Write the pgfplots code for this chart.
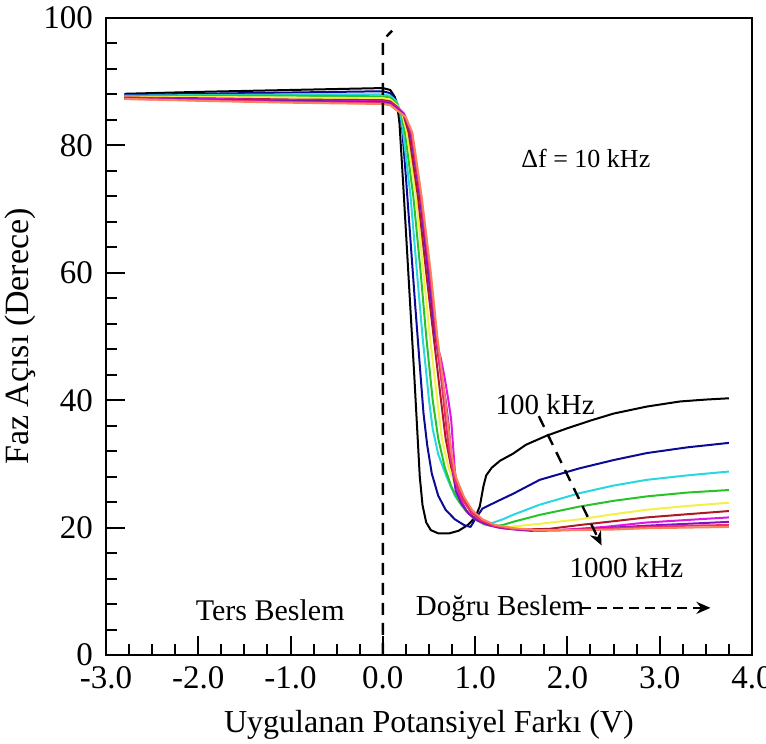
\documentclass[border=0pt]{standalone}
\usepackage{fontspec}
\setmainfont{Liberation Serif}
\usepackage{pgfplots}
\pgfplotsset{compat=1.18}
\usetikzlibrary{calc,arrows.meta}

\definecolor{c1}{RGB}{0,0,0}
\definecolor{c2}{RGB}{10,10,150}
\definecolor{c3}{RGB}{40,215,225}
\definecolor{c4}{RGB}{40,195,40}
\definecolor{c5}{RGB}{245,240,70}
\definecolor{c6}{RGB}{175,25,35}
\definecolor{c7}{RGB}{225,20,225}
\definecolor{c8}{RGB}{125,20,190}
\definecolor{c9}{RGB}{240,40,120}
\definecolor{c10}{RGB}{250,130,90}

\begin{document}
\begin{tikzpicture}
\begin{axis}[
    name=ax,
    scale only axis,
    width=323pt, height=318.5pt,
    xmin=-3, xmax=4, ymin=0, ymax=100,
    axis line style={line width=1.2pt},
    tick align=inside,
    xtick pos=bottom, ytick pos=left,
    xtick={-3,-2,...,4},
    xticklabels={-3.0,-2.0,-1.0,0.0,1.0,2.0,3.0,4.0},
    ytick={0,20,...,100},
    yticklabels={0,20,40,60,80,100},
    minor x tick num=3,
    minor y tick num=4,
    major tick length=9.5pt, minor tick length=5.5pt,
    every tick/.style={line width=1pt, black},
    tick label style={font=\fontsize{16.5}{18}\selectfont},
    xticklabel style={yshift=-2pt},
    yticklabel style={xshift=-3pt},
    xlabel={Uygulanan Potansiyel Farkı (V)},
    ylabel={Faz Açısı (Derece)},
    xlabel style={font=\fontsize{16}{18}\selectfont, yshift=-4pt},
    ylabel style={font=\fontsize{17}{19}\selectfont, yshift=-3pt},
    every axis plot/.append style={line width=1pt, line join=round},
]
% 100 kHz
\addplot[c1] coordinates {(-2.8,88.1) (-2.0,88.4) (-1.0,88.7) (0.0,89.0) (0.08,88.7) (0.13,87.6) (0.16,85.8) (0.18,83.5) (0.22,74) (0.26,64) (0.3,54) (0.34,44) (0.37,36) (0.40,28) (0.43,23.5) (0.47,20.8) (0.52,19.6) (0.6,19.1) (0.72,19.1) (0.82,19.5) (0.92,20.4) (1.0,21.6) (1.05,23.3) (1.09,26.5) (1.12,28.2) (1.18,29.4) (1.27,30.5) (1.41,31.6) (1.55,33.0) (1.77,34.4) (2.0,35.6) (2.25,36.8) (2.5,37.9) (2.86,39.0) (3.22,39.8) (3.5,40.1) (3.75,40.3)};
% 200 kHz
\addplot[c2] coordinates {(-2.8,87.9) (-2.0,88.1) (-1.0,88.3) (0.0,88.5) (0.08,88.2) (0.14,87.2) (0.18,85.5) (0.21,82.5) (0.25,75) (0.3,65) (0.35,55) (0.4,45.5) (0.44,38) (0.48,33) (0.53,28.5) (0.6,25) (0.68,22.8) (0.78,21.3) (0.88,20.4) (0.95,20.1) (1.0,21.3) (1.08,23.0) (1.25,24.2) (1.41,25.3) (1.7,27.5) (2.13,29.3) (2.5,30.6) (2.86,31.7) (3.3,32.6) (3.75,33.3)};
% 300 kHz
\addplot[c3] coordinates {(-2.8,87.8) (-2.0,87.9) (-1.0,88.0) (0.0,88.0) (0.08,87.8) (0.15,86.9) (0.19,85.0) (0.22,82) (0.3,72) (0.37,60) (0.43,50) (0.5,40) (0.54,35.5) (0.6,31.5) (0.69,28) (0.78,25) (0.87,23.2) (0.95,22) (1.03,21.1) (1.1,20.7) (1.18,20.7) (1.3,21.3) (1.41,22.0) (1.7,23.6) (2.13,25.4) (2.5,26.6) (2.86,27.5) (3.3,28.2) (3.75,28.8)};
% 400 kHz
\addplot[c4] coordinates {(-2.8,87.7) (-2.0,87.8) (-1.0,87.8) (0.0,87.7) (0.08,87.5) (0.15,86.6) (0.2,85) (0.24,82) (0.33,72) (0.41,60) (0.47,50) (0.54,40) (0.6,34) (0.67,29.5) (0.74,26.5) (0.82,24.2) (0.9,22.6) (1.0,21.3) (1.1,20.5) (1.2,20.2) (1.3,20.4) (1.41,20.9) (1.7,22.0) (2.13,23.3) (2.5,24.2) (2.86,24.9) (3.3,25.5) (3.75,25.9)};
% 500 kHz
\addplot[c5] coordinates {(-2.8,87.6) (-2.0,87.6) (-1.0,87.5) (0.0,87.4) (0.08,87.2) (0.16,86.2) (0.21,85) (0.26,82) (0.36,72) (0.44,60) (0.51,50) (0.59,40) (0.64,34) (0.71,29.5) (0.8,26.2) (0.88,24) (0.97,22.3) (1.07,21.0) (1.2,20.3) (1.35,20.1) (1.5,20.3) (1.7,20.6) (2.13,21.3) (2.5,22.1) (2.86,22.8) (3.3,23.4) (3.75,23.9)};
% 600 kHz
\addplot[c6] coordinates {(-2.8,87.5) (-2.0,87.4) (-1.0,87.2) (0.0,87.1) (0.08,86.9) (0.16,86.0) (0.22,85) (0.28,82) (0.38,72) (0.47,60) (0.55,50) (0.63,40) (0.68,34) (0.74,29.5) (0.82,26) (0.9,23.8) (1.0,22.0) (1.12,20.8) (1.3,20.0) (1.5,19.7) (1.8,19.8) (2.13,20.4) (2.5,21.0) (2.86,21.6) (3.3,22.1) (3.75,22.6)};
% 700 kHz
\addplot[c7] coordinates {(-2.8,87.5) (-2.0,87.3) (-1.0,87.1) (0.0,86.9) (0.08,86.7) (0.17,85.8) (0.23,85) (0.3,82) (0.41,72) (0.5,60) (0.56,52) (0.6,48) (0.63,46.5) (0.67,43.5) (0.71,40) (0.74,37) (0.76,33) (0.78,29) (0.8,26.5) (0.84,24.5) (0.91,22.5) (1.0,21.3) (1.12,20.5) (1.25,20.0) (1.5,19.6) (1.9,19.6) (2.4,20.1) (2.86,20.8) (3.3,21.2) (3.75,21.6)};
% 800 kHz
\addplot[c8] coordinates {(-2.8,87.4) (-2.0,87.2) (-1.0,87.0) (0.0,86.8) (0.08,86.6) (0.17,85.6) (0.23,84.8) (0.3,82) (0.4,72) (0.49,60) (0.56,51) (0.63,44) (0.68,40) (0.71,36.5) (0.73,33) (0.76,28.5) (0.79,25.8) (0.85,23.8) (0.93,22.2) (1.03,21.1) (1.15,20.4) (1.3,19.9) (1.6,19.5) (2.0,19.6) (2.5,20.0) (2.86,20.3) (3.3,20.6) (3.75,20.9)};
% 900 kHz
\addplot[c9] coordinates {(-2.8,87.3) (-2.0,87.1) (-1.0,86.8) (0.0,86.6) (0.08,86.4) (0.17,85.4) (0.24,84.6) (0.31,82) (0.41,72) (0.51,60) (0.58,50) (0.65,41) (0.69,35.5) (0.73,31) (0.78,27.5) (0.86,24.5) (0.95,22.5) (1.05,21.2) (1.2,20.3) (1.4,19.8) (1.7,19.6) (2.1,19.7) (2.5,19.9) (2.86,20.1) (3.3,20.3) (3.75,20.4)};
% 1000 kHz
\addplot[c10] coordinates {(-2.8,87.3) (-2.0,87.0) (-1.0,86.7) (0.0,86.5) (0.08,86.3) (0.18,85.2) (0.25,84.4) (0.32,82) (0.42,72) (0.52,60) (0.59,50) (0.66,42) (0.7,37) (0.74,32) (0.79,28) (0.88,24.8) (0.97,22.7) (1.08,21.3) (1.22,20.4) (1.42,19.9) (1.7,19.6) (2.1,19.6) (2.5,19.7) (2.86,19.9) (3.3,20.0) (3.75,20.1)};

% annotations
\draw[line width=1.2pt, dash pattern=on 6pt off 4pt] (axis cs:0,0) -- (axis cs:0,96.5) -- (axis cs:0.1,98);
\draw[line width=1.2pt, dash pattern=on 6pt off 4pt, -{Stealth[length=7pt,width=6pt]}] (axis cs:1.69,37.5) -- (axis cs:2.37,17.2);
\draw[line width=1.2pt, dash pattern=on 5pt off 3pt, -{Stealth[length=7pt,width=6pt]}] (axis cs:2.15,7.4) -- (axis cs:3.55,7.4);
\node[font=\fontsize{14.5}{16}\selectfont] at (axis cs:1.76,39.3) {100 kHz};
\node[font=\fontsize{14.5}{16}\selectfont] at (axis cs:2.64,13.8) {1000 kHz};
\node[font=\fontsize{13}{15}\selectfont] at (axis cs:2.2,78.0) {Δf = 10 kHz};
\node[font=\fontsize{15}{17}\selectfont] at (axis cs:-1.22,7.0) {Ters Beslem};
\node[font=\fontsize{14.5}{16}\selectfont] at (axis cs:1.27,7.3) {Doğru Beslem};
\end{axis}
\pgfresetboundingbox
\path[use as bounding box] ($(ax.south west)+(-53pt,-44.5pt)$) rectangle ($(ax.north east)+(7pt,9pt)$);
\end{tikzpicture}
\end{document}
